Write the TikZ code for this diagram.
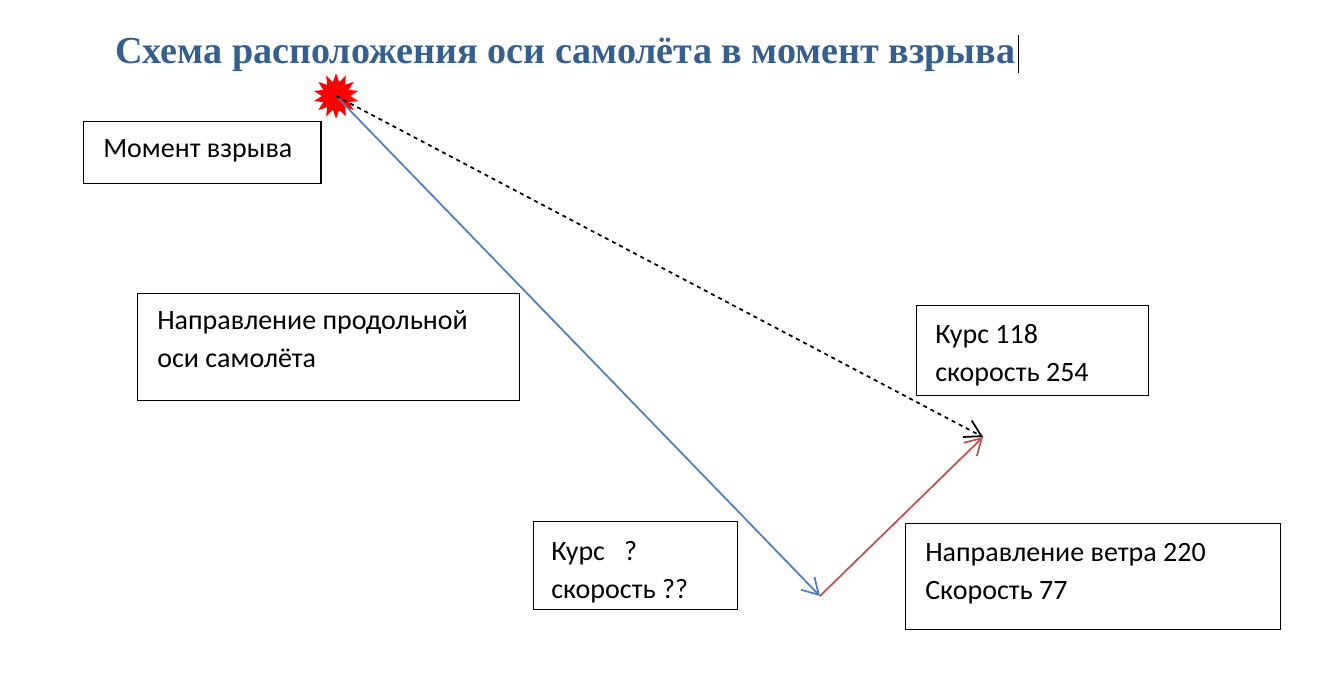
\documentclass[tikz,border=0pt]{standalone}
\usepackage{fontspec}
\setmainfont{Carlito}
\newfontfamily\titlefont{Liberation Serif}
\usetikzlibrary{shapes.geometric,arrows.meta}
\definecolor{titleblue}{RGB}{54,95,145}
\definecolor{axisblue}{RGB}{74,126,193}
\definecolor{windred}{RGB}{192,80,77}
\tikzset{
  infobox/.style={draw,line width=0.9pt,anchor=north west,inner sep=0pt},
  infotext/.style={anchor=base west,align=left,inner sep=0pt,font=\fontsize{21}{28.5}\selectfont},
  vec/.style={line width=1.3pt,-{Straight Barb[length=12pt,width=14pt]}}
}
\begin{document}
\begin{tikzpicture}[x=0.75pt,y=-0.75pt]
    \useasboundingbox (0,0) rectangle (1326,692);
    \node[anchor=base west,inner sep=0pt,text=titleblue,font=\titlefont\fontsize{28.6}{32}\selectfont\bfseries] (title) at (115,64) {Схема расположения оси самолёта в момент взрыва};
    \draw (title.east) ++(3,-20) coordinate (cur1) -- ++(0,38) coordinate (cur2);

    \node[star,star points=14,star point ratio=1.6,fill=red,minimum size=34pt,inner sep=0pt] (blast) at (336,96) {};
    \coordinate (turn) at (820,596);
    \coordinate (tip) at (983,437);

    \draw[vec,axisblue] (blast.center) -- (turn);
    \draw[vec,windred] (turn) -- (tip);
    \draw[vec,dashed] (blast.center) -- (tip);

    \node[infobox,minimum width=178pt,minimum height=46.5pt] (moment) at (83,121) {};
    \node[infotext] at (103,157) {Момент взрыва};
    \node[infobox,minimum width=286.5pt,minimum height=80pt] (axis) at (137,293) {};
    \node[infotext] at (157,367) {Направление продольной\\оси самолёта};
    \node[infobox,minimum width=174pt,minimum height=67.5pt] (course) at (916,305) {};
    \node[infotext] at (935,381) {Курс 118\\скорость 254};
    \node[infobox,minimum width=153pt,minimum height=66pt] (unknown) at (533,521) {};
    \node[infotext] at (551,598) {Курс \ \ ?\\скорость ??};
    \node[infobox,minimum width=281pt,minimum height=79.5pt] (wind) at (905,523) {};
    \node[infotext] at (925,599) {Направление ветра 220\\Скорость 77};
\end{tikzpicture}
\end{document}
